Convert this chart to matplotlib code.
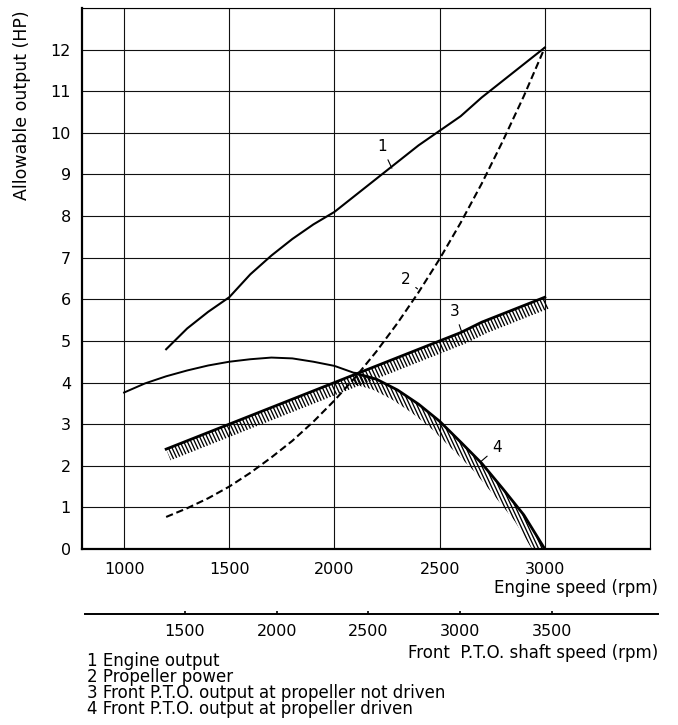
import matplotlib
matplotlib.use("Agg")
import matplotlib.pyplot as plt
from matplotlib.patches import Polygon
from matplotlib.collections import LineCollection
import numpy as np

plt.rcParams['font.family'] = ['DejaVu Sans']

# engine speed (rpm) and allowable output (HP)
rpm1 = [1200, 1300, 1400, 1500, 1600, 1700, 1800, 1900, 2000, 2100, 2200,
        2300, 2400, 2500, 2600, 2700, 2800, 2900, 3000]
engine_output = [4.8, 5.3, 5.7, 6.05, 6.6, 7.05, 7.45, 7.8, 8.1, 8.5, 8.9,
                 9.3, 9.7, 10.05, 10.4, 10.85, 11.25, 11.65, 12.05]
propeller_power = [0.77, 0.98, 1.22, 1.5, 1.83, 2.2, 2.6, 3.06, 3.57, 4.13, 4.75,
                   5.43, 6.17, 6.97, 7.84, 8.78, 9.8, 10.88, 12.05]
pto_not_driven = [2.4, 2.6, 2.8, 3.0, 3.2, 3.4, 3.6, 3.8, 4.0, 4.2, 4.4,
                  4.6, 4.8, 5.0, 5.2, 5.45, 5.65, 5.85, 6.05]
rpm4 = [1000, 1100, 1200, 1300, 1400, 1500, 1600, 1700, 1800, 1900, 2000,
        2100, 2200, 2300, 2400, 2500, 2600, 2700, 2800, 2900, 3000]
pto_driven = [3.76, 3.98, 4.15, 4.29, 4.41, 4.5, 4.56, 4.6, 4.58, 4.5, 4.4,
              4.22, 4.08, 3.82, 3.48, 3.07, 2.57, 2.06, 1.45, 0.82, 0.0]
hatch_from = 2100  # curve 4 drawn hatched from here on

engine_ticks = [1000, 1500, 2000, 2500, 3000]
hp_ticks = list(range(0, 13))
pto_ticks = [1500, 2000, 2500, 3000, 3500]

legend_lines = ["1 Engine output",
                "2 Propeller power",
                "3 Front P.T.O. output at propeller not driven",
                "4 Front P.T.O. output at propeller driven"]

W, H = 678, 725
fig = plt.figure(figsize=(W / 100, H / 100), dpi=100)
ax = fig.add_axes([82 / W, 1 - 549 / H, (650 - 82) / W, (549 - 8) / H])
ax.set_xlim(800, 3500)
ax.set_ylim(0, 13)
ax.set_xticks(engine_ticks + [3500])
ax.set_xticklabels([str(v) for v in engine_ticks] + [""])
ax.set_yticks(hp_ticks + [13])
ax.set_yticklabels([str(v) for v in hp_ticks] + [""])
ax.tick_params(length=0, labelsize=11.5, colors='black')
ax.tick_params(axis='x', pad=9)
ax.tick_params(axis='y', pad=8)
ax.grid(True, color='#111111', linewidth=0.8)
ax.set_axisbelow(True)
for s in ['top', 'right']:
    ax.spines[s].set_linewidth(0.8)
for s in ['left', 'bottom']:
    ax.spines[s].set_linewidth(1.6)


def hatched_band(x, y, depth=12, angle=-65, step=3.3):
    # short slanted strokes under a curve, clipped to a band of fixed pixel depth
    pts = ax.transData.transform(np.column_stack([x, y]))
    d = np.gradient(pts, axis=0)
    n = np.column_stack([d[:, 1], -d[:, 0]])
    n /= np.hypot(n[:, 0], n[:, 1])[:, None]
    band = np.vstack([pts, (pts + n * depth)[::-1]])
    inv = ax.transData.inverted()
    poly = Polygon(inv.transform(band), closed=True, facecolor='none',
                   edgecolor='none', transform=ax.transData)
    ax.add_patch(poly)
    a = np.radians(angle)
    u = np.array([np.cos(a), np.sin(a)])
    v = np.array([-np.sin(a), np.cos(a)])
    pv = band @ v
    pu = band @ u
    segs = []
    for o in np.arange(pv.min(), pv.max(), step):
        p0 = o * v + (pu.min() - 5) * u
        p1 = o * v + (pu.max() + 5) * u
        segs.append(inv.transform(np.array([p0, p1])))
    lc = LineCollection(segs, colors='black', linewidths=0.95)
    lc.set_clip_path(poly)
    lc.set_clip_box(ax.bbox)
    ax.add_collection(lc, autolim=False)


ax.plot(rpm1, engine_output, color='black', lw=1.5)
ax.plot(rpm1, propeller_power, color='black', lw=1.5, dashes=(3.5, 1.8))
ax.plot(rpm1, pto_not_driven, color='black', lw=2.0)
hatched_band(rpm1, pto_not_driven)

rpm4 = np.array(rpm4)
pto_driven = np.array(pto_driven)
m = rpm4 >= hatch_from
thin = rpm4 <= hatch_from + 50
ax.plot(rpm4[thin], pto_driven[thin], color='black', lw=1.4)
ax.plot(rpm4[m], pto_driven[m], color='black', lw=2.0)
hatched_band(rpm4[m], pto_driven[m], depth=11)

lead = dict(arrowstyle='-', color='black', lw=0.8, shrinkA=2, shrinkB=0)
ax.annotate("1", xy=(2273, 9.15), xytext=(2226, 9.66), fontsize=11,
            ha='center', va='center', arrowprops=lead)
ax.annotate("2", xy=(2395, 6.25), xytext=(2340, 6.47), fontsize=11,
            ha='center', va='center', arrowprops=lead)
ax.annotate("3", xy=(2606, 5.2), xytext=(2572, 5.7), fontsize=11,
            ha='center', va='center', arrowprops=lead)
ax.annotate("4", xy=(2691, 2.08), xytext=(2772, 2.43), fontsize=11,
            ha='center', va='center', arrowprops=lead)

fig.text(22 / W, 1 - 10 / H, "Allowable output (HP)", rotation=90,
         ha='center', va='top', fontsize=12.5)
fig.text(658 / W, 1 - 588 / H, "Engine speed (rpm)", ha='right',
         va='center', fontsize=12)

# front P.T.O. shaft speed scale
ax2 = fig.add_axes([85 / W, 1 - 614 / H, (658 - 85) / W, 0.001])
ax2.set_xlim(955, 4078)
ax2.set_ylim(0, 1)
ax2.set_xticks(pto_ticks)
ax2.set_yticks([])
for s in ['top', 'left', 'right']:
    ax2.spines[s].set_visible(False)
ax2.spines['bottom'].set_linewidth(1.4)
ax2.tick_params(axis='x', direction='in', length=2.5, width=1.2,
                labelsize=11.5, pad=7)
ax2.patch.set_visible(False)
fig.text(658 / W, 1 - 653 / H, "Front  P.T.O. shaft speed (rpm)",
         ha='right', va='center', fontsize=12)

fig.text(87 / W, 1 - 652 / H, "\n".join(legend_lines), ha='left', va='top',
         fontsize=12, linespacing=0.86)

fig.savefig("out.png", dpi=100)
